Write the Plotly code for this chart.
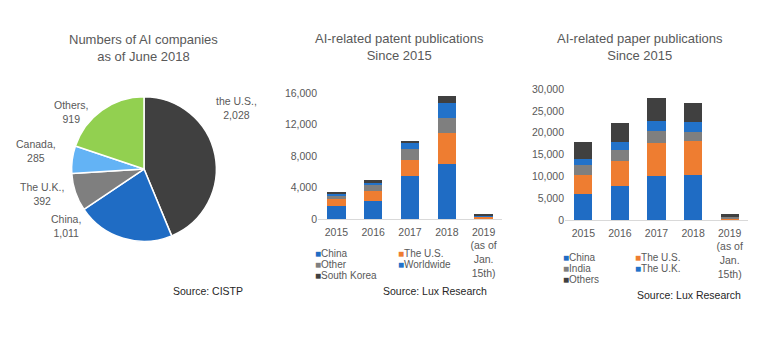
import plotly.graph_objects as go

# ---- Data ----
pie_labels = ["the U.S.", "China", "The U.K.", "Canada", "Others"]
pie_values = [2028, 1011, 392, 285, 919]

years = ["2015", "2016", "2017", "2018", "2019<br>(as of<br>Jan.<br>15th)"]

patent_names = ["China", "The U.S.", "Other", "Worldwide", "South Korea"]
patent_china = [1700, 2300, 5500, 7000, 100]
patent_us = [900, 1300, 2050, 3900, 250]
patent_other = [450, 700, 1300, 1950, 60]
patent_worldwide = [250, 400, 820, 1850, 120]
patent_korea = [130, 200, 250, 900, 60]

paper_names = ["China", "The U.S.", "India", "The U.K.", "Others"]
paper_china = [5900, 7700, 10100, 10300, 200]
paper_us = [4400, 5750, 7500, 7800, 300]
paper_india = [2300, 2700, 2850, 2100, 250]
paper_uk = [1350, 1700, 2300, 2250, 150]
paper_others = [4000, 4350, 5250, 4400, 400]

# ---- Styling ----
FONT = "Liberation Sans, Arial, sans-serif"
TXT = "#595959"
BLUE = "#1f6cc4"
BLUE2 = "#2272c9"
ORANGE = "#ee7d31"
GRAY = "#7f7f7f"
DARK = "#404040"
pie_colors = [DARK, BLUE, GRAY, "#63b3f5", "#92d050"]
bar_colors = [BLUE, ORANGE, GRAY, BLUE2, DARK]

W, H = 774, 340


def px(x):
    return x / W


def py(y):
    return 1 - y / H


fig = go.Figure()

# Pie of AI companies
fig.add_trace(go.Pie(
    labels=pie_labels, values=pie_values, sort=False,
    direction="clockwise", rotation=0,
    marker=dict(colors=pie_colors, line=dict(color="white", width=1.5)),
    textinfo="none", hoverinfo="label+value", showlegend=False,
    domain=dict(x=[px(69), px(219)], y=[py(244), py(94)]),
))

# Stacked bars: patents
patent_series = [patent_china, patent_us, patent_other, patent_worldwide, patent_korea]
for name, vals, col in zip(patent_names, patent_series, bar_colors):
    fig.add_trace(go.Bar(x=years, y=vals, name=name, marker=dict(color=col, line=dict(width=0)),
                         xaxis="x", yaxis="y", showlegend=False))

# Stacked bars: papers
paper_series = [paper_china, paper_us, paper_india, paper_uk, paper_others]
for name, vals, col in zip(paper_names, paper_series, bar_colors):
    fig.add_trace(go.Bar(x=years, y=vals, name=name, marker=dict(color=col, line=dict(width=0)),
                         xaxis="x2", yaxis="y2", showlegend=False))

axis_font = dict(family=FONT, size=10.5, color=TXT)
xcommon = dict(showgrid=False, showline=True, linecolor="#d9d9d9", linewidth=1,
               ticks="", ticklabelstandoff=3, tickfont=axis_font, fixedrange=True)
ycommon = dict(showgrid=False, showline=False, zeroline=False, ticks="",
               tickformat=",", tickfont=axis_font, fixedrange=True)

fig.update_layout(
    width=W, height=H,
    margin=dict(l=0, r=0, t=0, b=0),
    paper_bgcolor="white", plot_bgcolor="white",
    barmode="stack", bargap=0.5,
    font=dict(family=FONT, color=TXT),
    xaxis=dict(domain=[px(318), px(502)], anchor="y", **xcommon),
    yaxis=dict(domain=[py(221), py(90)], anchor="x", range=[0, 16000], dtick=4000, **ycommon),
    xaxis2=dict(domain=[px(565), px(748)], anchor="y2", **xcommon),
    yaxis2=dict(domain=[py(222), py(86)], anchor="x2", range=[0, 30000], dtick=5000, **ycommon),
)

ann = []
title_font = dict(family=FONT, size=13, color=TXT)
ann.append(dict(text="Numbers of AI companies<br>as of June 2018", x=px(143), y=py(44),
                font=title_font))
ann.append(dict(text="AI-related patent publications<br>Since 2015", x=px(399), y=py(43),
                font=title_font))
ann.append(dict(text="AI-related paper publications<br>Since 2015", x=px(640), y=py(43),
                font=title_font))

# Pie data labels
label_pos = [(236, 106), (66, 228), (42, 195), (36, 150), (71, 110)]
for lab, val, (lx, ly) in zip(pie_labels, pie_values, label_pos):
    ann.append(dict(text=f"{lab},<br>{val:,}", x=px(lx), y=py(ly),
                    font=dict(family=FONT, size=10.5, color=TXT)))

# Compact two-column legends
def legend_block(names, colors, col_x, row_y):
    order = [0, 2, 4, 1, 3]
    slots = [(0, 0), (0, 1), (0, 2), (1, 0), (1, 1)]
    for idx, (c, r) in zip(order, slots):
        ann.append(dict(
            text=f'<span style="color:{colors[idx]}">■</span>{names[idx]}',
            x=px(col_x[c]), y=py(row_y[r]), xanchor="left", borderpad=0,
            font=dict(family=FONT, size=10, color=TXT)))


legend_block(patent_names, bar_colors, (314, 397), (257, 268, 279))
legend_block(paper_names, bar_colors, (562, 634), (261, 272, 284))

src_font = dict(family=FONT, size=10.5, color="#262626")
ann.append(dict(text="Source: CISTP", x=px(245), y=py(295), xanchor="right", font=src_font))
ann.append(dict(text="Source: Lux Research", x=px(489), y=py(295), xanchor="right", font=src_font))
ann.append(dict(text="Source: Lux Research", x=px(743), y=py(300), xanchor="right", font=src_font))

for a in ann:
    a.setdefault("xref", "paper")
    a.setdefault("yref", "paper")
    a.setdefault("showarrow", False)
    a.setdefault("xanchor", "center")
    a.setdefault("yanchor", "middle")
fig.update_layout(annotations=ann)

fig.write_html("out.html")
